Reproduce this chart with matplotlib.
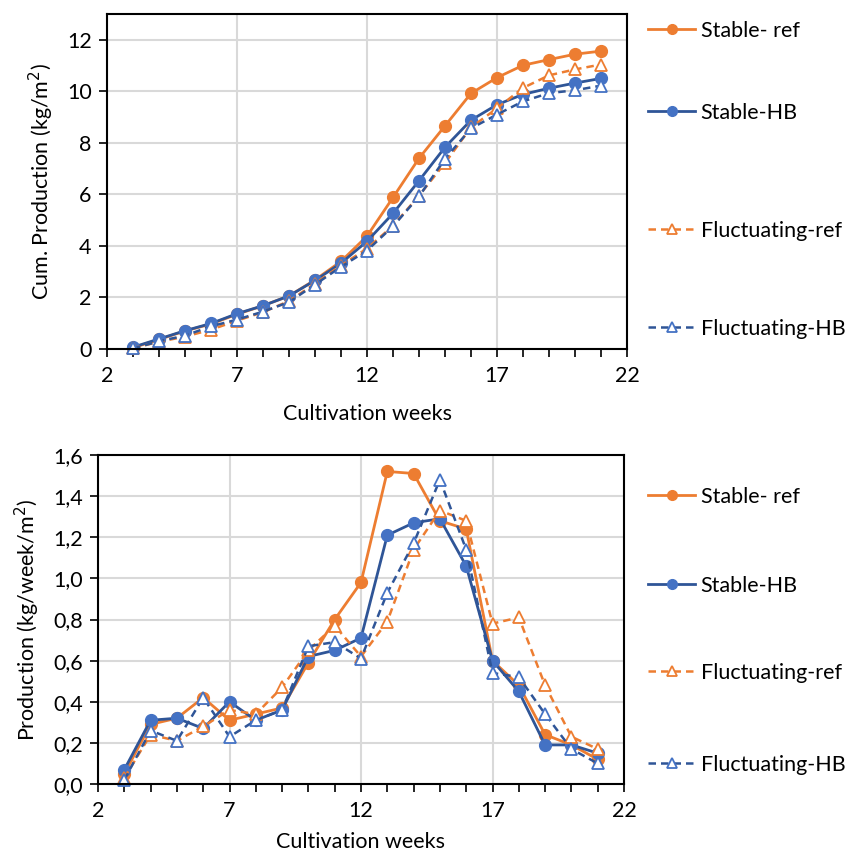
import matplotlib
matplotlib.use("Agg")
import matplotlib.pyplot as plt
from matplotlib.lines import Line2D
from matplotlib.ticker import FuncFormatter, MultipleLocator, FixedLocator

plt.rcParams['font.family'] = ['Lato', 'DejaVu Sans']

weeks = list(range(3, 22))
x_major_ticks = [2, 7, 12, 17, 22]

# Cumulative production (kg/m2)
cum_stable_ref = [0.05, 0.37, 0.70, 0.97, 1.35, 1.68, 2.06, 2.68, 3.40, 4.38, 5.88, 7.40, 8.66, 9.92, 10.53, 11.01, 11.23, 11.44, 11.56]
cum_stable_hb = [0.07, 0.39, 0.71, 0.99, 1.37, 1.68, 2.06, 2.66, 3.33, 4.18, 5.26, 6.53, 7.83, 8.88, 9.48, 9.88, 10.12, 10.32, 10.50]
cum_fluct_ref = [0.03, 0.28, 0.48, 0.75, 1.10, 1.43, 1.86, 2.54, 3.24, 3.90, 4.78, 5.95, 7.22, 8.60, 9.34, 10.13, 10.62, 10.85, 11.04]
cum_fluct_hb = [0.02, 0.30, 0.52, 0.88, 1.14, 1.45, 1.82, 2.50, 3.19, 3.82, 4.76, 5.92, 7.38, 8.56, 9.10, 9.61, 9.93, 10.04, 10.22]

# Weekly production (kg/week/m2)
wk_stable_ref = [0.05, 0.29, 0.32, 0.42, 0.31, 0.34, 0.37, 0.59, 0.80, 0.98, 1.52, 1.51, 1.28, 1.24, 0.60, 0.48, 0.24, 0.19, 0.12]
wk_stable_hb = [0.07, 0.31, 0.32, 0.27, 0.40, 0.31, 0.36, 0.62, 0.65, 0.71, 1.21, 1.27, 1.29, 1.06, 0.60, 0.45, 0.19, 0.19, 0.15]
wk_fluct_ref = [0.03, 0.24, 0.21, 0.28, 0.36, 0.34, 0.47, 0.65, 0.77, 0.62, 0.79, 1.14, 1.33, 1.28, 0.78, 0.81, 0.48, 0.23, 0.17]
wk_fluct_hb = [0.02, 0.26, 0.21, 0.42, 0.23, 0.31, 0.36, 0.67, 0.69, 0.61, 0.93, 1.17, 1.48, 1.14, 0.54, 0.52, 0.34, 0.17, 0.10]

labels = ["Stable- ref", "Stable-HB", "Fluctuating-ref", "Fluctuating-HB"]

ORANGE = "#ED7D31"
BLUE_M = "#4472C4"
BLUE_L = "#2F5597"

styles = [
    dict(color=ORANGE, ls='-', marker='o', mfc=ORANGE, mec=ORANGE, ms=8.5, lw=2),
    dict(color=BLUE_L, ls='-', marker='o', mfc=BLUE_M, mec=BLUE_M, ms=8.5, lw=2),
    dict(color=ORANGE, ls=(0, (3, 2)), marker='^', mfc='white', mec=ORANGE, ms=8.5, lw=1.8, mew=1.3),
    dict(color=BLUE_L, ls=(0, (3, 2)), marker='^', mfc='white', mec=BLUE_M, ms=8.5, lw=1.8, mew=1.3),
]

fig = plt.figure(figsize=(8.46, 8.57), dpi=100)
ax1 = fig.add_axes([107/846, 1-349/857, (627-107)/846, (349-14)/857])
ax2 = fig.add_axes([98/846, 1-784/857, (624-98)/846, (784-455)/857])

FS = 15.5

def style_axis(ax, ylim, ymajor, fmt, xlabelpad):
    ax.set_xlim(2, 22)
    ax.set_ylim(*ylim)
    ax.xaxis.set_major_locator(FixedLocator(x_major_ticks))
    ax.xaxis.set_minor_locator(MultipleLocator(1))
    ax.yaxis.set_major_locator(MultipleLocator(ymajor))
    ax.yaxis.set_major_formatter(FuncFormatter(fmt))
    ax.grid(True, which='major', color='#D9D9D9', lw=1.5)
    ax.set_axisbelow(True)
    for s in ax.spines.values():
        s.set_linewidth(1.5)
        s.set_color('black')
    ax.tick_params(axis='both', which='both', direction='out', width=1.2, labelsize=FS, colors='black')
    ax.tick_params(axis='both', which='major', length=6, pad=5)
    ax.tick_params(axis='x', which='major', pad=6)
    ax.tick_params(axis='x', which='minor', length=6)
    ax.tick_params(axis='y', which='minor', left=False)
    ax.set_xlabel("Cultivation weeks", fontsize=FS, labelpad=xlabelpad)

series_cum = [cum_stable_ref, cum_stable_hb, cum_fluct_ref, cum_fluct_hb]
series_wk = [wk_stable_ref, wk_stable_hb, wk_fluct_ref, wk_fluct_hb]

for data, st in zip(series_cum, styles):
    ax1.plot(weeks, data, clip_on=False, **st)
for data, st in zip(series_wk, styles):
    ax2.plot(weeks, data, clip_on=False, **st)

style_axis(ax1, (0, 13), 2, lambda v, p: f"{v:.0f}", 13)
style_axis(ax2, (0, 1.6), 0.2, lambda v, p: f"{v:.1f}".replace('.', ','), 8)
ax1.set_ylabel("Cum. Production (kg/m$^2$)", fontsize=FS, labelpad=8)
ax2.set_ylabel("Production (kg/week/m$^2$)", fontsize=FS, labelpad=8)

def add_legend_entries(ys):
    for lab, st, y in zip(labels, styles, ys):
        kw = dict(st)
        kw['ms'] = 7
        h = Line2D([], [], **kw)
        fig.legend(handles=[h], labels=[lab], loc='center left',
                   bbox_to_anchor=(648/846, 1 - y/857), frameon=False,
                   fontsize=FS, handlelength=2.2, handletextpad=0.25,
                   borderpad=0, borderaxespad=0)

add_legend_entries([31, 113, 231, 329])
add_legend_entries([497, 586, 673, 765])

fig.savefig("out.png", dpi=100)
